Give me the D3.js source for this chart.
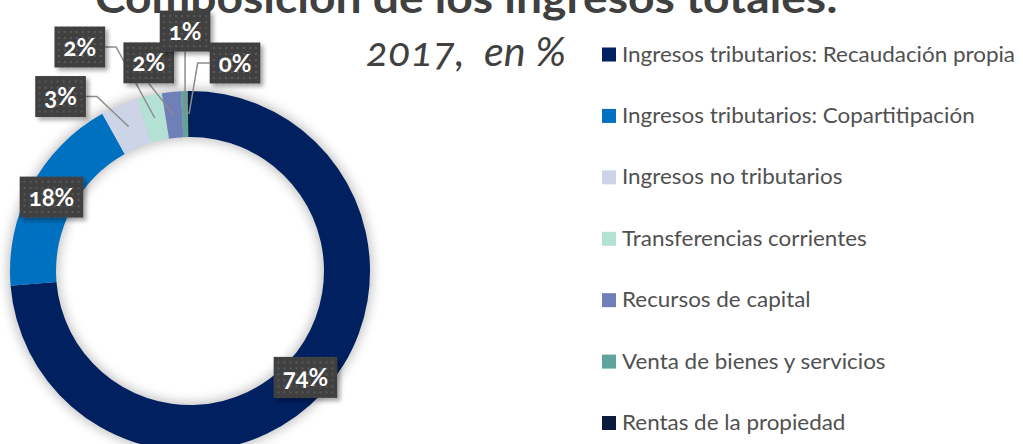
<!DOCTYPE html>
<html>
<head>
<meta charset="utf-8">
<script src="https://cdn.jsdelivr.net/npm/d3@7"></script>
<style>
  html, body { margin: 0; padding: 0; background: #fff; }
  svg { display: block; font-family: Lato, "Open Sans", sans-serif; }
</style>
</head>
<body>
<svg id="chart" width="1023" height="444"></svg>
<script>
// データ（2017年、%）
const categories = [
  "Ingresos tributarios: Recaudación propia",
  "Ingresos tributarios: Copartitipación",
  "Ingresos no tributarios",
  "Transferencias corrientes",
  "Recursos de capital",
  "Venta de bienes y servicios",
  "Rentas de la propiedad"
];
const values = [73.7, 18.2, 3.4, 2.2, 1.7, 0.6, 0.2];
const colors = ["#002060", "#0070C0", "#CDD4E8", "#B3E2D5", "#6F7FB8", "#5FA39A", "#0B1A3D"];
const titleText = "Composición de los ingresos totales:";
const subtitleText = "2017,  en %";

// ラベルを重心からずらす量（小さい扇形だけ外へ出す）
const labelOffsets = [[0, 0], [0, 0], [-68, -30], [-75, -71], [-25, -52], [0, -83], [46, -51]];

const svg = d3.select("#chart");
const defs = svg.append("defs");

// ドーナツの影
defs.append("filter").attr("id", "ringShadow")
  .attr("x", "-20%").attr("y", "-20%").attr("width", "140%").attr("height", "140%")
  .append("feGaussianBlur").attr("stdDeviation", 6);

// ラベル箱の影
const boxShadow = defs.append("filter").attr("id", "boxShadow")
  .attr("x", "-20%").attr("y", "-20%").attr("width", "150%").attr("height", "150%");
boxShadow.append("feDropShadow")
  .attr("dx", 3).attr("dy", 3).attr("stdDeviation", 2)
  .attr("flood-color", "#000").attr("flood-opacity", 0.35);

// ラベル箱の点模様
const pattern = defs.append("pattern").attr("id", "dots")
  .attr("width", 6).attr("height", 6).attr("patternUnits", "userSpaceOnUse");
pattern.append("rect").attr("width", 6).attr("height", 6).attr("fill", "#404040");
pattern.append("rect").attr("x", 2).attr("y", 2).attr("width", 2).attr("height", 2).attr("fill", "#595959");

// タイトル
const title = svg.append("text")
  .attr("x", 95).attr("y", 13)
  .attr("font-size", 42).attr("font-weight", 700)
  .attr("fill", "#404040")
  .text(titleText);
title.attr("textLength", 743).attr("lengthAdjust", "spacingAndGlyphs");

const subtitle = svg.append("text")
  .attr("x", 366).attr("y", 66)
  .attr("font-size", 40).attr("font-style", "italic")
  .attr("fill", "#404040")
  .style("font-feature-settings", "'onum'")
  .style("white-space", "pre")
  .text(subtitleText);
subtitle.attr("textLength", 200).attr("lengthAdjust", "spacingAndGlyphs");

// ドーナツ
const cx = 190, cy = 271;
const outerR = 180, innerR = 134;
const total = d3.sum(values);
const fmt = d3.format(".0%");

const pie = d3.pie().sort(null).value(d => d.value);
const arcs = pie(values.map((v, i) => ({ name: categories[i], value: v, color: colors[i] })));
const arc = d3.arc().innerRadius(innerR).outerRadius(outerR);

const g = svg.append("g").attr("transform", `translate(${cx},${cy})`);

g.append("path")
  .attr("d", d3.arc().innerRadius(innerR - 2).outerRadius(outerR + 2).startAngle(0).endAngle(2 * Math.PI)())
  .attr("fill", "#000").attr("opacity", 0.25)
  .attr("filter", "url(#ringShadow)");

g.selectAll("path.slice")
  .data(arcs)
  .join("path")
  .attr("class", "slice")
  .attr("d", arc)
  .attr("fill", d => d.data.color);

// ラベル位置
const labels = arcs.map((d, i) => {
  const [x, y] = arc.centroid(d);
  return { arc: d, cx: x, cy: y, x: x + labelOffsets[i][0], y: y + labelOffsets[i][1], text: fmt(d.value / total) };
});

const labelG = g.append("g");
const leaderG = labelG.append("g");
const boxG = labelG.append("g");

labels.forEach(l => {
  const grp = boxG.append("g").attr("transform", `translate(${l.x},${l.y})`);
  const rect = grp.append("rect").attr("fill", "url(#dots)").attr("filter", "url(#boxShadow)");
  const t = grp.append("text")
    .attr("text-anchor", "middle").attr("dy", "0.36em")
    .attr("font-size", 24).attr("font-weight", 700)
    .attr("fill", "#fff")
    .style("font-feature-settings", "'onum'")
    .text(l.text);
  const w = t.node().getComputedTextLength() + 18;
  const h = 41;
  l.w = w; l.h = h;
  rect.attr("x", -w / 2).attr("y", -h / 2).attr("width", w).attr("height", h);
});

// 引き出し線
labels.forEach(l => {
  if (l.x === l.cx && l.y === l.cy) return;
  const left = l.x - l.w / 2, right = l.x + l.w / 2, bottom = l.y + l.h / 2;
  let pts;
  if (l.cx >= left && l.cx <= right) {
    pts = [[l.x, bottom], [l.cx, l.cy]];
  } else if (l.cx > right) {
    pts = [[right, l.y], [right + 11, l.y], [l.cx, l.cy]];
  } else {
    pts = [[left, l.y], [left - 12, l.y], [l.cx, l.cy]];
  }
  leaderG.append("path")
    .attr("d", d3.line()(pts))
    .attr("fill", "none")
    .attr("stroke", "#8c8c8c")
    .attr("stroke-width", 1.5);
});

// 凡例
const legendY = d3.scalePoint().domain(categories).range([54.5, 423]);
const legend = svg.append("g");
const items = legend.selectAll("g")
  .data(categories)
  .join("g")
  .attr("transform", d => `translate(602,${legendY(d)})`);
items.append("rect")
  .attr("x", 0).attr("y", -7).attr("width", 14).attr("height", 14)
  .attr("fill", (d, i) => colors[i]);
const legendText = items.append("text")
  .attr("x", 20).attr("y", 7)
  .attr("font-size", 21)
  .attr("fill", "#505050")
  .text(d => d);

// 最初の項目の幅に合わせて横方向に詰める
const ratio = 393 / legendText.nodes()[0].getComputedTextLength();
legendText.each(function () {
  const len = this.getComputedTextLength();
  d3.select(this).attr("textLength", len * ratio).attr("lengthAdjust", "spacingAndGlyphs");
});
</script>
</body>
</html>
